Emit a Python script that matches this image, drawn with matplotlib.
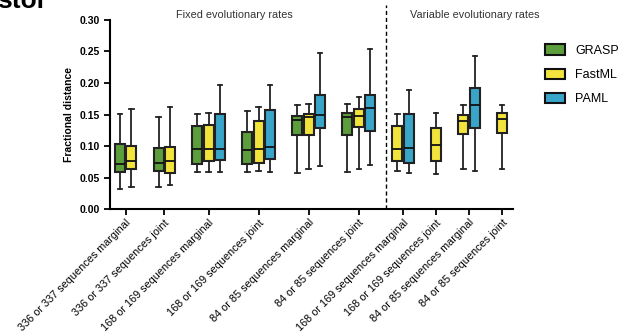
import matplotlib.pyplot as plt
from matplotlib.patches import Patch

plt.rcParams['font.family'] = ['Liberation Sans', 'DejaVu Sans']

groups = ['336 or 337 sequences marginal', '336 or 337 sequences joint',
          '168 or 169 sequences marginal', '168 or 169 sequences joint',
          '84 or 85 sequences marginal', '84 or 85 sequences joint',
          '168 or 169 sequences marginal', '168 or 169 sequences joint',
          '84 or 85 sequences marginal', '84 or 85 sequences joint']

# (min, q1, median, q3, max) per group, None where the method is absent
grasp = [(0.032, 0.059, 0.071, 0.103, 0.151),
         (0.035, 0.061, 0.073, 0.097, 0.146),
         (0.059, 0.072, 0.095, 0.132, 0.151),
         (0.059, 0.072, 0.093, 0.123, 0.156),
         (0.057, 0.117, 0.141, 0.148, 0.165),
         (0.059, 0.117, 0.146, 0.153, 0.167),
         None, None, None, None]
fastml = [(0.035, 0.063, 0.076, 0.100, 0.158),
          (0.038, 0.058, 0.076, 0.098, 0.162),
          (0.059, 0.077, 0.096, 0.134, 0.153),
          (0.061, 0.073, 0.096, 0.139, 0.162),
          (0.063, 0.117, 0.146, 0.151, 0.167),
          (0.063, 0.131, 0.148, 0.159, 0.178),
          (0.061, 0.076, 0.096, 0.132, 0.151),
          (0.055, 0.076, 0.101, 0.129, 0.153),
          (0.063, 0.119, 0.140, 0.150, 0.165),
          (0.063, 0.121, 0.143, 0.153, 0.165)]
paml = [None, None,
        (0.059, 0.078, 0.096, 0.151, 0.197),
        (0.059, 0.079, 0.098, 0.157, 0.197),
        (0.069, 0.128, 0.150, 0.181, 0.248),
        (0.070, 0.124, 0.161, 0.181, 0.254),
        (0.057, 0.073, 0.097, 0.151, 0.189),
        None,
        (0.061, 0.128, 0.165, 0.192, 0.243),
        None]

series = [('GRASP', grasp, '#5b9e3b'),
          ('FastML', fastml, '#f2e43c'),
          ('PAML', paml, '#39a5c9')]

fig = plt.figure(figsize=(6.27, 3.32), dpi=100)
ax = fig.add_axes([0.1754, 0.370, 0.643, 0.570])

gap = 2.4
x = 0.0
centers = []
last_pos = []
for gi in range(len(groups)):
    pos_in_group = []
    for name, data, color in series:
        s = data[gi]
        if s is None:
            continue
        stats = [dict(whislo=s[0], q1=s[1], med=s[2], q3=s[3], whishi=s[4], fliers=[])]
        ax.bxp(stats, positions=[x], widths=0.88, capwidths=0.4, patch_artist=True,
               showfliers=False, manage_ticks=False,
               boxprops=dict(facecolor=color, edgecolor='#222222', linewidth=1.5),
               medianprops=dict(color='#111111', linewidth=1.3),
               whiskerprops=dict(color='#222222', linewidth=1.3),
               capprops=dict(color='#222222', linewidth=1.3))
        pos_in_group.append(x)
        x += 1
    centers.append(sum(pos_in_group) / len(pos_in_group))
    last_pos.append(pos_in_group)
    x += gap - 1

# dashed divider between fixed and variable rate groups
split = (last_pos[5][-1] + last_pos[6][0]) / 2 + 0.2
ax.axvline(split, ymin=0, ymax=1.08, color='black', linestyle=(0, (3, 2)),
           linewidth=1.0, clip_on=False)

ax.set_xlim(-0.88, last_pos[-1][-1] + 0.97)
ax.set_ylim(0, 0.30)
ax.set_yticks([0, 0.05, 0.10, 0.15, 0.20, 0.25, 0.30])
ax.set_yticklabels(['0.00', '0.05', '0.10', '0.15', '0.20', '0.25', '0.30'],
                   fontsize=7.5, fontweight='bold')
ax.set_xticks(centers)
ax.set_xticklabels(groups, rotation=45, ha='right', rotation_mode='anchor', fontsize=7.8)
ax.tick_params(axis='both', direction='out', length=4, width=1.3, color='black')
ax.tick_params(axis='x', pad=2)
ax.set_ylabel('Fractional distance', fontsize=7.5, fontweight='bold', labelpad=4)
for side in ['top', 'right']:
    ax.spines[side].set_visible(False)
for side in ['left', 'bottom']:
    ax.spines[side].set_linewidth(1.5)

fig.text(234 / 627, 1 - 15 / 332, 'Fixed evolutionary rates', fontsize=7.8,
         color='#333333', ha='center', va='center')
fig.text(475 / 627, 1 - 15 / 332, 'Variable evolutionary rates', fontsize=7.8,
         color='#333333', ha='center', va='center')
fig.text(-0.004, 1 - 8 / 332, 'stor', fontsize=19, fontweight='bold',
         ha='left', va='baseline')

handles = [Patch(facecolor=c, edgecolor='#111111', linewidth=1.5, label=n)
           for n, d, c in series]
fig.legend(handles=handles, loc='upper left', bbox_to_anchor=(0.861, 0.882),
           frameon=False, fontsize=9, handlelength=1.6, handleheight=0.9,
           labelspacing=0.95, handletextpad=0.85, borderaxespad=0)

fig.savefig('out.png', dpi=100)
